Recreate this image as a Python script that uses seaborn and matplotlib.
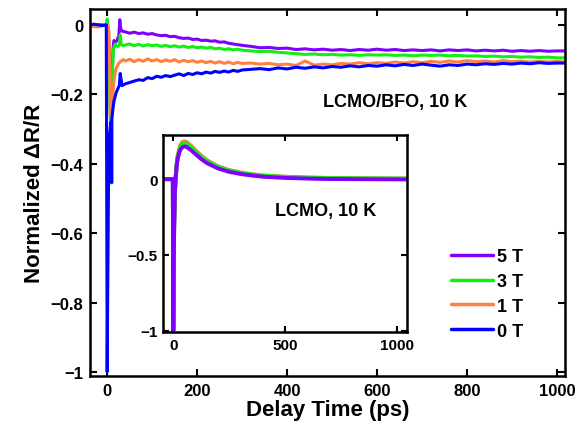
import pandas as pd
import matplotlib
matplotlib.use("Agg")
import matplotlib.pyplot as plt
import seaborn as sns

# champs magnetiques et couleurs
fields = ['5 T', '3 T', '1 T', '0 T']
colors = {'5 T': '#8000FF', '3 T': '#14EE14', '1 T': '#FF8040', '0 T': '#0000FF'}

# grille commune des temps longs (ps)
t_late = list(range(40, 301, 10)) + list(range(320, 1001, 20)) + [1018]

# courbes principales LCMO/BFO : debut propre + partie longue
t_5T = [-38, -20, -5, 0, 4, 8, 10, 13, 15, 18, 22, 26, 28, 30, 33] + t_late
r_5T = [0, 0, 0, 0, -0.05, -0.3, -0.2, -0.07, -0.045, -0.05, -0.045, -0.03, 0.015, -0.01, -0.018,
        -0.02, -0.024, -0.021, -0.025, -0.023, -0.027, -0.025, -0.029, -0.031, -0.03, -0.034,
        -0.033, -0.037, -0.039, -0.038, -0.042, -0.041, -0.045, -0.044, -0.047, -0.046, -0.05,
        -0.049, -0.053, -0.055, -0.057, -0.059,
        -0.062, -0.066, -0.065, -0.068, -0.067, -0.071, -0.069, -0.072, -0.07, -0.073, -0.071,
        -0.074, -0.071, -0.073, -0.07, -0.073, -0.071, -0.074, -0.072, -0.074, -0.072, -0.075,
        -0.072, -0.074, -0.072, -0.075, -0.073, -0.075, -0.073, -0.076, -0.074, -0.076, -0.074,
        -0.076, -0.075, -0.075]

t_3T = [-38, -20, -5, -1, 0, 1, 4, 8, 10, 12, 14, 16, 18, 20, 24, 27, 29, 31, 35] + t_late
r_3T = [0, 0, 0, 0.005, 0.017, -0.02, -0.15, -0.3, -0.22, -0.12, -0.07, -0.06, -0.055, -0.06,
        -0.062, -0.058, -0.03, -0.055, -0.06,
        -0.058, -0.055, -0.06, -0.056, -0.061, -0.057, -0.06, -0.058, -0.062, -0.059, -0.063,
        -0.06, -0.064, -0.061, -0.065, -0.062, -0.066, -0.064, -0.067, -0.065, -0.069, -0.067,
        -0.071, -0.069, -0.072, -0.07, -0.073,
        -0.075, -0.077, -0.076, -0.079, -0.081, -0.083, -0.085, -0.084, -0.086, -0.085, -0.087,
        -0.086, -0.088, -0.086, -0.087, -0.086, -0.088, -0.087, -0.089, -0.087, -0.088, -0.087,
        -0.089, -0.088, -0.09, -0.089, -0.091, -0.09, -0.092, -0.091, -0.093, -0.092, -0.094,
        -0.093, -0.095, -0.095]

t_1T = [-38, -30, -20, -10, -2, 2, 4, 6, 7, 9, 11, 13, 16, 20, 25, 30, 36] + t_late
r_1T = [-0.003, -0.005, -0.006, -0.002, 0, 0, -0.02, -0.15, -0.26, -0.24, -0.21, -0.19, -0.15,
        -0.125, -0.112, -0.105, -0.1,
        -0.104, -0.099, -0.106, -0.1, -0.105, -0.098, -0.104, -0.1, -0.106, -0.101, -0.105, -0.1,
        -0.107, -0.102, -0.106, -0.103, -0.108, -0.104, -0.109, -0.105, -0.11, -0.106, -0.111,
        -0.107, -0.112, -0.108, -0.111,
        -0.11, -0.113, -0.111, -0.115, -0.113, -0.117, -0.104, -0.116, -0.113, -0.115, -0.111,
        -0.113, -0.109, -0.112, -0.109, -0.111, -0.107, -0.11, -0.106, -0.109, -0.105, -0.108,
        -0.104, -0.107, -0.103, -0.106, -0.104, -0.107, -0.103, -0.106, -0.104, -0.107, -0.105,
        -0.107, -0.105, -0.107]

t_0T = [-38, -30, -20, -10, -2, 0, 1, 3, 5, 8, 9.5, 10, 10.5, 12, 15, 20, 25, 27, 29, 33] + t_late
r_0T = [0, 0.002, 0, -0.002, 0, -1.0, -0.8, -0.45, -0.32, -0.28, -0.3, -0.455, -0.27, -0.25,
        -0.22, -0.195, -0.18, -0.175, -0.14, -0.175,
        -0.17, -0.166, -0.162, -0.158, -0.16, -0.152, -0.155, -0.148, -0.151, -0.146, -0.149,
        -0.145, -0.141, -0.146, -0.14, -0.143, -0.138, -0.141, -0.136, -0.139, -0.134, -0.137,
        -0.133, -0.136, -0.131, -0.134, -0.13,
        -0.128, -0.126, -0.129, -0.124, -0.127, -0.122, -0.125, -0.121, -0.124, -0.12, -0.122,
        -0.118, -0.121, -0.117, -0.119, -0.115, -0.118, -0.114, -0.117, -0.113, -0.116, -0.119,
        -0.115, -0.117, -0.113, -0.115, -0.112, -0.114, -0.111, -0.113, -0.11, -0.112, -0.109,
        -0.111, -0.11, -0.11]

# encart LCMO seul
t_in = [-45, -20, -2, 0, 2, 4, 7, 10, 15, 20, 30, 40, 50, 60, 80, 100, 125, 150, 200,
        250, 300, 350, 400, 500, 600, 700, 800, 900, 1045]
in_1T = [0, 0, 0, -1.0, -0.6, -0.3, -0.1, 0.0, 0.1, 0.16, 0.22, 0.245, 0.25, 0.245,
         0.22, 0.19, 0.155, 0.125, 0.085, 0.06, 0.045, 0.033, 0.025, 0.016, 0.011,
         0.008, 0.006, 0.005, 0.004]
in_3T = [0, 0, 0, -1.0, -0.6, -0.3, -0.1, 0.0, 0.095, 0.152, 0.208, 0.232, 0.238, 0.233,
         0.21, 0.182, 0.148, 0.12, 0.081, 0.057, 0.042, 0.031, 0.023, 0.015, 0.01,
         0.007, 0.006, 0.005, 0.004]
in_0T = [0, 0, 0, -1.0, -0.6, -0.3, -0.1, 0.0, 0.09, 0.145, 0.198, 0.22, 0.226, 0.222,
         0.2, 0.173, 0.14, 0.113, 0.076, 0.053, 0.039, 0.028, 0.02, 0.012, 0.007,
         0.004, 0.003, 0.002, 0.001]
in_5T = [0, 0, 0, -1.0, -0.6, -0.3, -0.1, -0.005, 0.085, 0.14, 0.19, 0.21, 0.216, 0.212,
         0.19, 0.164, 0.132, 0.106, 0.07, 0.048, 0.034, 0.024, 0.016, 0.008, 0.004,
         0.001, 0.0, -0.001, -0.002]

main = pd.concat([
    pd.DataFrame({'t': t_5T, 'r': r_5T, 'B': '5 T'}),
    pd.DataFrame({'t': t_3T, 'r': r_3T, 'B': '3 T'}),
    pd.DataFrame({'t': t_1T, 'r': r_1T, 'B': '1 T'}),
    pd.DataFrame({'t': t_0T, 'r': r_0T, 'B': '0 T'}),
])
inset = pd.concat([
    pd.DataFrame({'t': t_in, 'r': in_0T, 'B': '0 T'}),
    pd.DataFrame({'t': t_in, 'r': in_1T, 'B': '1 T'}),
    pd.DataFrame({'t': t_in, 'r': in_3T, 'B': '3 T'}),
    pd.DataFrame({'t': t_in, 'r': in_5T, 'B': '5 T'}),
])

sns.set_style("ticks")
plt.rcParams['font.family'] = ['Liberation Sans', 'DejaVu Sans']
plt.rcParams['font.weight'] = 'bold'
plt.rcParams['axes.linewidth'] = 1.8
for k in ['text.color', 'axes.labelcolor', 'xtick.color', 'ytick.color', 'axes.edgecolor']:
    plt.rcParams[k] = 'black'

fig = plt.figure(figsize=(5.85, 4.31), dpi=100)
ax = fig.add_axes([0.154, 0.125, 0.812, 0.852])

sns.lineplot(data=main, x='t', y='r', hue='B', hue_order=fields, palette=colors,
             estimator=None, sort=False, lw=2.2, ax=ax)
ax.set_xlim(-38, 1018)
ax.set_ylim(-1.012, 0.046)
ax.set_xticks([0, 200, 400, 600, 800, 1000])
ax.set_yticks([-1, -0.8, -0.6, -0.4, -0.2, 0])
ax.set_yticklabels(['\u22121', '\u22120.8', '\u22120.6', '\u22120.4', '\u22120.2', '0'])
ax.tick_params(direction='in', top=True, right=True, length=5, width=1.5,
               labelsize=12, pad=5)
for lab in ax.get_xticklabels() + ax.get_yticklabels():
    lab.set_fontweight('bold')
ax.set_xlabel('Delay Time (ps)', fontsize=16, fontweight='bold', labelpad=1)
ax.set_ylabel('Normalized \u0394R/R', fontsize=16, fontweight='bold', labelpad=4)
ax.text(480, -0.222, 'LCMO/BFO, 10 K', fontsize=13, fontweight='bold',
        ha='left', va='center')

leg = ax.legend(loc='upper left', bbox_to_anchor=(435 / 585, 1 - 233 / 431),
                bbox_transform=fig.transFigure, frameon=False, fontsize=13,
                handlelength=2.3, labelspacing=0.43, handletextpad=0.25)
for line in leg.get_lines():
    line.set_linewidth(2.5)
for txt in leg.get_texts():
    txt.set_fontweight('bold')

# encart
axi = fig.add_axes([0.279, 0.227, 0.417, 0.457])
sns.lineplot(data=inset, x='t', y='r', hue='B', hue_order=fields[::-1], palette=colors,
             estimator=None, sort=False, lw=2.8, legend=False, ax=axi)
axi.set_xlim(-45, 1045)
axi.set_ylim(-1.01, 0.29)
axi.set_xticks([0, 500, 1000])
axi.set_yticks([-1, -0.5, 0])
axi.set_yticklabels(['\u22121', '\u22120.5', '0'])
axi.tick_params(direction='in', top=True, right=True, length=4, width=1.5,
                labelsize=11, pad=4)
for lab in axi.get_xticklabels() + axi.get_yticklabels():
    lab.set_fontweight('bold')
axi.set_xlabel('')
axi.set_ylabel('')
axi.text(455, -0.21, 'LCMO, 10 K', fontsize=13, fontweight='bold', ha='left', va='center')

fig.savefig('out.png', dpi=100)
